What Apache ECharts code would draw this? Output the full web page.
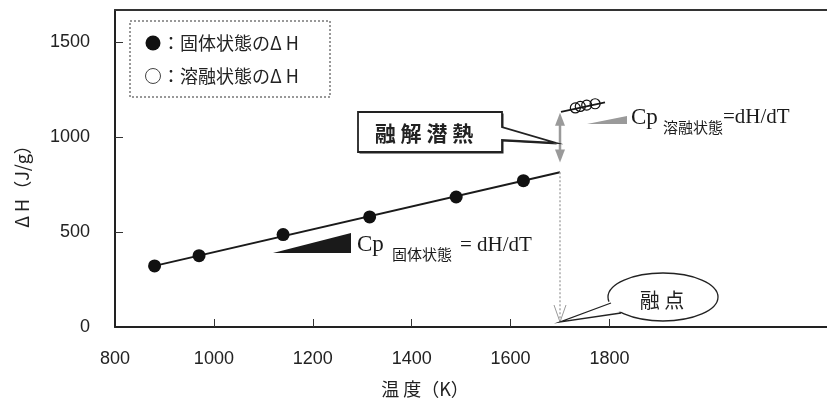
<!DOCTYPE html>
<html><head><meta charset="utf-8">
<script src="https://cdn.jsdelivr.net/npm/echarts@6/dist/echarts.min.js"></script>
<style>html,body{margin:0;padding:0;background:#fff}#c{width:827px;height:403px}</style>
</head><body><div id="c"></div>
<script>
// ---- data ----
const xTickLabels = [800, 1000, 1200, 1400, 1600, 1800];
const yTickLabels = [0, 500, 1000, 1500];
const solidT = [880, 970, 1140, 1315, 1490, 1626];
const solidH = [322, 376, 487, 580, 685, 771];
const liquidT = [1731, 1741, 1754, 1771];
const liquidH = [1154, 1162, 1169, 1176];
const solidFitT = [880, 1700];
const solidFitH = [322, 815];
const liquidFitT = [1702, 1791];
const liquidFitH = [1133, 1183];
const meltingT = 1700;
const latentTop = 1129, latentBottom = 866;

const zip = (a, b) => a.map((v, i) => [v, b[i]]);
const chart = echarts.init(document.getElementById('c'));
const sans = '"Liberation Sans", Arial, sans-serif';
const jp = '"Noto Sans CJK JP", sans-serif';
const serif = '"Liberation Serif", "Times New Roman", serif';

chart.setOption({
  animation: false,
  grid: { left: 115, right: 0, top: 10, bottom: 76, outerBoundsMode: 'none' },
  xAxis: [{
    type: 'value', min: 800, max: 2240, interval: 200,
    axisLine: { lineStyle: { color: '#222', width: 2 } },
    axisTick: { show: true, inside: true, length: 8, customValues: xTickLabels.slice(1), lineStyle: { color: '#333', width: 1 } },
    axisLabel: { customValues: xTickLabels, formatter: v => String(v), color: '#222', fontSize: 18, fontFamily: sans, margin: 23 },
    splitLine: { show: false }
  }, {
    type: 'value', position: 'top', min: 800, max: 2240,
    axisLine: { show: true, lineStyle: { color: '#333', width: 2 } },
    axisTick: { show: false }, axisLabel: { show: false }, splitLine: { show: false }
  }],
  yAxis: {
    type: 'value', min: 0, max: 1670, interval: 500,
    axisLine: { show: true, lineStyle: { color: '#222', width: 2 } },
    axisTick: { show: true, inside: true, length: 8, customValues: yTickLabels.slice(1), lineStyle: { color: '#333', width: 1 } },
    axisLabel: { customValues: yTickLabels, formatter: v => String(v), color: '#222', fontSize: 18, fontFamily: sans, margin: 25 },
    splitLine: { show: false }
  },
  series: [
    { type: 'line', data: zip(solidFitT, solidFitH), symbol: 'none', lineStyle: { color: '#1a1a1a', width: 2 }, z: 3 },
    { type: 'scatter', data: zip(solidT, solidH), symbolSize: 13, itemStyle: { color: '#111', opacity: 1 }, z: 4 },
    { type: 'line', data: zip(liquidFitT, liquidFitH), symbol: 'none', lineStyle: { color: '#1a1a1a', width: 1.8 }, z: 3 },
    { type: 'scatter', data: zip(liquidT, liquidH), symbolSize: 10, itemStyle: { color: 'rgba(255,255,255,0)', borderColor: '#111', borderWidth: 1.2, opacity: 1 }, z: 4 }
  ]
});

const P = (x, y) => chart.convertToPixel({ gridIndex: 0 }, [x, y]);
const mTop = P(meltingT, solidFitH[1]);
const mBase = P(meltingT, 0);
const aTop = P(meltingT, latentTop);
const aBot = P(meltingT, latentBottom);
const mx = mTop[0];
const gray = '#9a9a9a';

const g = [];
// dotted line to melting point
g.push({ type: 'line', shape: { x1: mx, y1: mTop[1], x2: mx, y2: mBase[1] - 5 }, style: { stroke: '#aaa', lineWidth: 1.5, lineDash: [2, 2] }, z: 50 });
g.push({ type: 'polyline', shape: { points: [[mx - 6, mBase[1] - 22], [mx, mBase[1] - 5], [mx + 6, mBase[1] - 22]] }, style: { stroke: '#999', lineWidth: 1, fill: null }, z: 50 });
// latent heat double arrow
g.push({ type: 'line', shape: { x1: mx, y1: aTop[1] + 8, x2: mx, y2: aBot[1] - 8 }, style: { stroke: gray, lineWidth: 2.5 }, z: 50 });
g.push({ type: 'polygon', shape: { points: [[mx, aTop[1]], [mx - 5, aTop[1] + 13], [mx + 5, aTop[1] + 13]] }, style: { fill: gray }, z: 50 });
g.push({ type: 'polygon', shape: { points: [[mx, aBot[1]], [mx - 5, aBot[1] - 13], [mx + 5, aBot[1] - 13]] }, style: { fill: gray }, z: 50 });

// legend box
g.push({ type: 'rect', shape: { x: 130, y: 21, width: 200, height: 76 }, style: { fill: '#fff', stroke: '#333', lineWidth: 1, lineDash: [2, 2] }, z: 60 });
g.push({ type: 'circle', shape: { cx: 153, cy: 43, r: 7.5 }, style: { fill: '#111' }, z: 61 });
g.push({ type: 'circle', shape: { cx: 153, cy: 76, r: 7.5 }, style: { fill: '#fff', stroke: '#444', lineWidth: 1 }, z: 61 });
g.push({ type: 'text', x: 162, y: 43, style: { text: '：固体状態のΔ H', font: '18px ' + jp, fill: '#222', verticalAlign: 'middle' }, z: 61 });
g.push({ type: 'text', x: 162, y: 76, style: { text: '：溶融状態のΔ H', font: '18px ' + jp, fill: '#222', verticalAlign: 'middle' }, z: 61 });

// latent heat callout
const cb = [[358, 112], [502, 112], [502, 127], [556, 143], [502, 140], [502, 152], [358, 152]];
g.push({ type: 'polygon', shape: { points: cb.map(p => [p[0] + 1.5, p[1] + 1.5]) }, style: { fill: '#222' }, z: 60 });
g.push({ type: 'polygon', shape: { points: cb }, style: { fill: '#fff', stroke: '#222', lineWidth: 1.8 }, z: 61 });
g.push({ type: 'text', x: 424, y: 133, style: { text: '融 解 潜 熱', font: 'bold 21px ' + jp, fill: '#222', align: 'center', verticalAlign: 'middle' }, z: 62 });

// melting point callout
g.push({ type: 'ellipse', shape: { cx: 663, cy: 297, rx: 55, ry: 24 }, style: { fill: '#fff', stroke: '#222', lineWidth: 1.3 }, z: 60 });
g.push({ type: 'polygon', shape: { points: [[613, 300], [mx, mBase[1] - 5], [624, 311]] }, style: { fill: '#fff' }, z: 61 });
g.push({ type: 'polyline', shape: { points: [[611, 303], [mx, mBase[1] - 5], [621, 313]] }, style: { stroke: '#222', lineWidth: 1.3, fill: null }, z: 62 });
g.push({ type: 'text', x: 662, y: 300, style: { text: '融 点', font: '20px ' + jp, fill: '#222', align: 'center', verticalAlign: 'middle' }, z: 62 });

// Cp solid
g.push({ type: 'polygon', shape: { points: [[273, 253], [351, 233], [351, 253]] }, style: { fill: '#1a1a1a' }, z: 40 });
g.push({ type: 'text', x: 357, y: 245, style: { text: 'Cp', font: '23px ' + serif, fill: '#1a1a1a', verticalAlign: 'middle' }, z: 40 });
g.push({ type: 'text', x: 392, y: 254, style: { text: '固体状態', font: '15px ' + jp, fill: '#1a1a1a', verticalAlign: 'middle' }, z: 40 });
g.push({ type: 'text', x: 460, y: 245, style: { text: '= dH/dT', font: '21px ' + serif, fill: '#1a1a1a', verticalAlign: 'middle' }, z: 40 });

// Cp liquid
g.push({ type: 'polygon', shape: { points: [[587, 124], [627, 116], [627, 124]] }, style: { fill: gray }, z: 40 });
g.push({ type: 'text', x: 631, y: 118, style: { text: 'Cp', font: '23px ' + serif, fill: '#1a1a1a', verticalAlign: 'middle' }, z: 40 });
g.push({ type: 'text', x: 663, y: 127, style: { text: '溶融状態', font: '15px ' + jp, fill: '#1a1a1a', verticalAlign: 'middle' }, z: 40 });
g.push({ type: 'text', x: 723, y: 117, style: { text: '=dH/dT', font: '21px ' + serif, fill: '#1a1a1a', verticalAlign: 'middle' }, z: 40 });

// axis names
g.push({ type: 'text', x: 425, y: 389, style: { text: '温 度（K）', font: '18px ' + jp, fill: '#222', align: 'center', verticalAlign: 'middle' }, z: 40 });
g.push({ type: 'text', x: 22, y: 182, rotation: Math.PI / 2, style: { text: 'Δ H（J/g）', font: '18px ' + jp, fill: '#222', align: 'center', verticalAlign: 'middle' }, z: 40 });

chart.setOption({ graphic: { elements: g } });
</script></body></html>
